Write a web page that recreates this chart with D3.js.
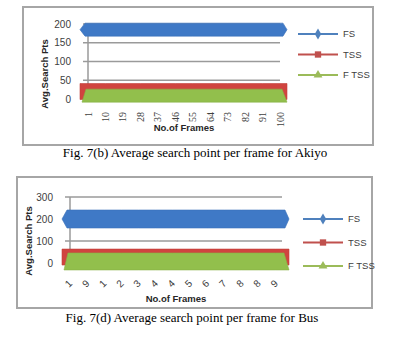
<!DOCTYPE html>
<html>
<head>
<meta charset="utf-8">
<script src="https://cdn.jsdelivr.net/npm/d3@7"></script>
<style>
  body { margin: 0; background: #fff; }
  svg { display: block; }
</style>
</head>
<body>
<script>
// --- data ---
const seriesNames = ["FS", "TSS", "F TSS"];

// Fig 7(b) Akiyo
const akiyoFrames = [1, 10, 19, 28, 37, 46, 55, 64, 73, 82, 91, 100];
const akiyoFS   = [185, 185, 185, 185, 185, 185, 185, 185, 185, 185, 185, 185];
const akiyoTSS  = [20, 20, 20, 20, 20, 20, 20, 20, 20, 20, 20, 20];
const akiyoFTSS = [9, 9, 9, 9, 9, 9, 9, 9, 9, 9, 9, 9];
const akiyoXTicks = [1, 10, 19, 28, 37, 46, 55, 64, 73, 82, 91, 100];
const akiyoXLabels = ["1", "10", "19", "28", "37", "46", "55", "64", "73", "82", "91", "100"];
const akiyoYTicks = [0, 50, 100, 150, 200];

// Fig 7(d) Bus
const busFrames = [1, 9, 17, 25, 33, 41, 49, 57, 65, 73, 81, 89, 97, 100];
const busFS   = [200, 200, 200, 200, 200, 200, 200, 200, 200, 200, 200, 200, 200, 200];
const busTSS  = [27, 27, 27, 27, 27, 27, 27, 27, 27, 27, 27, 27, 27, 27];
const busFTSS = [7, 7, 7, 7, 7, 7, 7, 7, 7, 7, 7, 7, 7, 7];
const busXTicks = [1, 9, 17, 25, 33, 41, 49, 57, 65, 73, 81, 89, 97];
const busXLabels = ["1", "9", "1", "2", "3", "4", "4", "5", "6", "7", "8", "8", "9"];
const busYTicks = [0, 100, 200, 300];

const fillColors = ["#3f79c6", "#d0443f", "#92bf4c"];
const lineColors = ["#4f81bd", "#c0504d", "#9bbb59"];

const svg = d3.select("body").append("svg")
    .attr("width", 398)
    .attr("height", 364);

const sansFont = "Liberation Sans, Arial, sans-serif";

function drawChart(opt) {
  const g = svg.append("g");

  // outer frame
  g.append("rect")
    .attr("x", opt.box[0]).attr("y", opt.box[1])
    .attr("width", opt.box[2]).attr("height", opt.box[3])
    .attr("fill", "#fff")
    .attr("stroke", "#a6a6a6")
    .attr("stroke-width", 2);

  const x = d3.scaleLinear().domain([1, 100]).range(opt.xRange);
  const y = d3.scaleLinear().domain(opt.yDomain).range(opt.yRange);

  // gridlines + small ticks
  g.selectAll(".grid")
    .data(opt.yTicks.filter(d => d > 0))
    .enter().append("line")
    .attr("x1", opt.xRange[0] - 5).attr("x2", opt.xRange[1])
    .attr("y1", d => y(d)).attr("y2", d => y(d))
    .attr("stroke", "#9a9a9a")
    .attr("stroke-width", 1.5);

  g.append("line")
    .attr("x1", opt.xRange[0]).attr("x2", opt.xRange[0])
    .attr("y1", y(opt.yDomain[1])).attr("y2", y(0))
    .attr("stroke", "#9a9a9a")
    .attr("stroke-width", 1.5);

  // y tick labels
  g.selectAll(".ylab")
    .data(opt.yTicks)
    .enter().append("text")
    .attr("x", opt.yLabelX)
    .attr("y", d => y(d))
    .attr("dy", "0.35em")
    .attr("text-anchor", "end")
    .attr("font-family", sansFont)
    .attr("font-size", 10)
    .attr("fill", "#404040")
    .text(d => d);

  // ribbons (3D-style thick lines)
  const path = d3.line();
  opt.series.forEach((vals, i) => {
    const h = opt.thick[i];
    const xs = opt.frames.map(f => x(f));
    const ys = vals.map(v => y(v));
    const top = xs.map((px, k) => [px, ys[k] - h / 2]);
    const bot = xs.map((px, k) => [px, ys[k] + h / 2]).reverse();
    const x0 = xs[0], xn = xs[xs.length - 1];
    const yc0 = ys[0], ycn = ys[ys.length - 1];
    let pts;
    if (i === 0) {
      pts = [[x0 - 8, yc0], [x0 - 3, yc0 - h / 2], ...top, [xn + 3, ycn - h / 2], [xn + 7, ycn],
             [xn + 3, ycn + h / 2], ...bot, [x0 - 3, yc0 + h / 2]];
    } else if (i === 1) {
      pts = [[x0 - 8, yc0 - h / 2], ...top, [xn + 7, ycn - h / 2], [xn + 7, ycn + h / 2], ...bot, [x0 - 8, yc0 + h / 2]];
    } else {
      pts = [[x0 - 2, yc0 - h / 2], ...top, [xn + 2, ycn - h / 2], [xn + 7, ycn + h / 2], ...bot, [x0 - 6, yc0 + h / 2]];
    }
    g.append("path")
      .attr("d", path(pts) + "Z")
      .attr("fill", fillColors[i])
      .attr("stroke", d3.color(fillColors[i]).darker(0.2))
      .attr("stroke-width", 0.6);
  });

  // x tick labels
  g.selectAll(".xlab")
    .data(opt.xTicks)
    .enter().append("text")
    .attr("transform", d => `translate(${x(d) + opt.xLabelDx},${opt.xLabelY}) rotate(${opt.xRot})`)
    .attr("dy", opt.xRot === -90 ? "0.35em" : "0")
    .attr("text-anchor", "end")
    .attr("font-family", opt.xRot === -90 ? "Liberation Serif, serif" : sansFont)
    .attr("font-size", 10)
    .attr("fill", "#404040")
    .text((d, k) => opt.xLabels[k]);

  // axis titles
  g.append("text")
    .attr("x", (opt.xRange[0] + opt.xRange[1]) / 2)
    .attr("y", opt.xTitleY)
    .attr("text-anchor", "middle")
    .attr("font-family", sansFont)
    .attr("font-weight", "bold")
    .attr("font-size", 9.5)
    .attr("fill", "#262626")
    .text("No.of Frames");

  g.append("text")
    .attr("transform", `translate(${opt.yTitle[0]},${opt.yTitle[1]}) rotate(-90)`)
    .attr("text-anchor", "middle")
    .attr("dy", "0.35em")
    .attr("font-family", sansFont)
    .attr("font-weight", "bold")
    .attr("font-size", 9.5)
    .attr("fill", "#262626")
    .text("Avg.Search Pts");

  // legend
  const leg = g.selectAll(".leg")
    .data(seriesNames)
    .enter().append("g")
    .attr("transform", (d, i) => `translate(${opt.legend[0]},${opt.legend[1] + i * opt.legend[2]})`);

  leg.append("line")
    .attr("x1", 0).attr("x2", 40)
    .attr("stroke", (d, i) => lineColors[i])
    .attr("stroke-width", 2);

  leg.append("path")
    .attr("transform", "translate(20,0)")
    .attr("d", (d, i) => d3.symbol()
      .type([d3.symbolDiamond, d3.symbolSquare, d3.symbolTriangle][i])
      .size([36, 40, 34][i])())
    .attr("fill", (d, i) => lineColors[i]);

  leg.append("text")
    .attr("x", 45)
    .attr("dy", "0.35em")
    .attr("font-family", sansFont)
    .attr("font-size", 9.5)
    .attr("fill", "#404040")
    .text(d => d);

  // caption
  svg.append("text")
    .attr("x", opt.caption[0])
    .attr("y", opt.caption[1])
    .attr("text-anchor", "middle")
    .attr("font-family", "Liberation Serif, Times New Roman, serif")
    .attr("font-size", 13)
    .attr("fill", "#000")
    .text(opt.captionText);
}

drawChart({
  box: [23, 7, 350, 138],
  frames: akiyoFrames,
  series: [akiyoFS, akiyoTSS, akiyoFTSS],
  thick: [13, 16, 13],
  xRange: [88, 280],
  yDomain: [0, 200],
  yRange: [99, 24],
  yTicks: akiyoYTicks,
  yLabelX: 71,
  xTicks: akiyoXTicks,
  xLabels: akiyoXLabels,
  xRot: -90,
  xLabelDx: 0,
  xLabelY: 112,
  xTitleY: 131,
  yTitle: [45, 74],
  legend: [298, 34, 20.5],
  caption: [195, 157],
  captionText: "Fig. 7(b) Average search point per frame for Akiyo"
});

drawChart({
  box: [17, 177, 355, 131],
  frames: busFrames,
  series: [busFS, busTSS, busFTSS],
  thick: [18, 16, 17],
  xRange: [70, 282],
  yDomain: [0, 300],
  yRange: [263, 197],
  yTicks: busYTicks,
  yLabelX: 53,
  xTicks: busXTicks,
  xLabels: busXLabels,
  xRot: -45,
  xLabelDx: 3,
  xLabelY: 284,
  xTitleY: 302,
  yTitle: [29, 241],
  legend: [303, 219, 23.5],
  caption: [192, 322],
  captionText: "Fig. 7(d) Average search point per frame for Bus"
});
</script>
</body>
</html>
